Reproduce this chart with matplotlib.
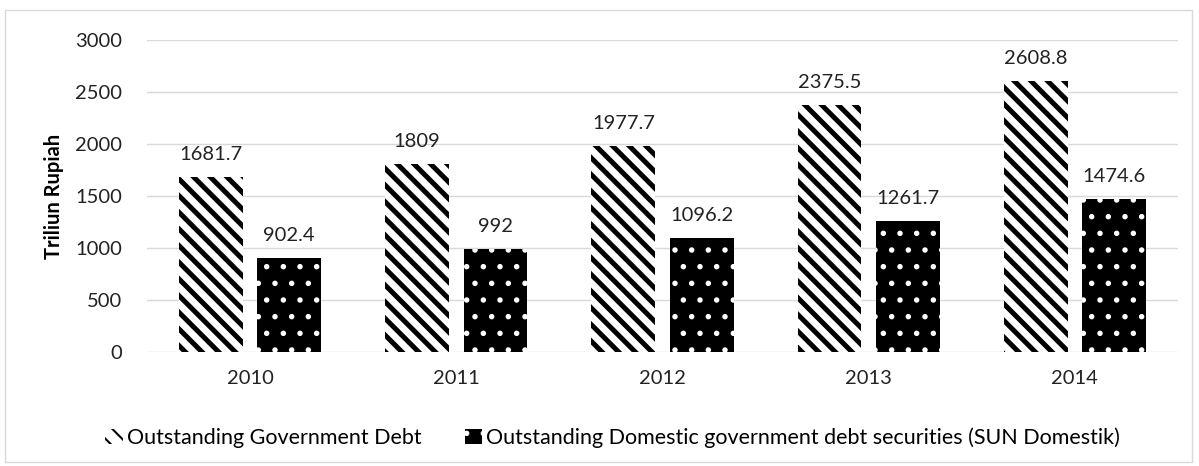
import numpy as np
import matplotlib.pyplot as plt
from matplotlib.patches import Rectangle

plt.rcParams['font.family'] = ['Lato', 'DejaVu Sans']

# Data
years = ['2010', '2011', '2012', '2013', '2014']
gov_debt = [1681.7, 1809, 1977.7, 2375.5, 2608.8]
sun_domestic = [902.4, 992, 1096.2, 1261.7, 1474.6]
labels_gov = ['1681.7', '1809', '1977.7', '2375.5', '2608.8']
labels_sun = ['902.4', '992', '1096.2', '1261.7', '1474.6']
series_names = ['Outstanding Government Debt',
                'Outstanding Domestic government debt securities (SUN Domestik)']

fig = plt.figure(figsize=(11.99, 4.66), dpi=100)
ax = fig.add_axes([0.1226, 0.2446, 0.8599, 0.6696])

x = np.arange(len(years))
w = 0.31
off = 0.19

# Bar dengan garis miring (utang pemerintah)
with plt.rc_context({'hatch.linewidth': 3.6}):
    b1 = ax.bar(x - off, gov_debt, width=w, facecolor='white', edgecolor='black',
                hatch='\\\\', linewidth=0, label=series_names[0], zorder=3)

# Bar hitam dengan titik putih (SUN domestik)
with plt.rc_context({'hatch.linewidth': 1.5}):
    b2 = ax.bar(x + off, sun_domestic, width=w, facecolor='black', edgecolor='white',
                hatch='.', linewidth=0, label=series_names[1], zorder=3)

for xi, v, t in zip(x - off, gov_debt, labels_gov):
    ax.annotate(t, (xi, v), xytext=(0, 10), textcoords='offset points',
                ha='center', va='bottom', fontsize=14.5, color='#222222')
for xi, v, t in zip(x + off, sun_domestic, labels_sun):
    ax.annotate(t, (xi, v), xytext=(0, 10), textcoords='offset points',
                ha='center', va='bottom', fontsize=14.5, color='#222222')

ax.set_xlim(-0.5, len(years) - 0.5)
ax.set_ylim(0, 3000)
ax.set_yticks(np.arange(0, 3001, 500))
ax.set_xticks(x)
ax.set_xticklabels(years)
ax.tick_params(axis='both', length=0, labelsize=14.5, colors='#222222')
ax.tick_params(axis='y', pad=18)
ax.tick_params(axis='x', pad=13)
ax.grid(axis='y', color='#d9d9d9', linewidth=1, zorder=0)
for s in ax.spines.values():
    s.set_visible(False)
ax.set_ylabel('Triliun Rupiah', fontsize=14.5, fontweight='bold', labelpad=8)

with plt.rc_context({'hatch.linewidth': 1.5}):
    leg = fig.legend(handles=[b1, b2], loc='center', bbox_to_anchor=(0.511, 0.06),
                     ncol=2, frameon=False, fontsize=15.5, handlelength=0.8,
                     handleheight=0.7, handletextpad=0.2, columnspacing=2.0)

# Bingkai area grafik
fig.patches.append(Rectangle((0.004, 0.008), 0.99, 0.97, transform=fig.transFigure,
                             fill=False, edgecolor='#d9d9d9', linewidth=1))

fig.savefig('out.png', dpi=100)
